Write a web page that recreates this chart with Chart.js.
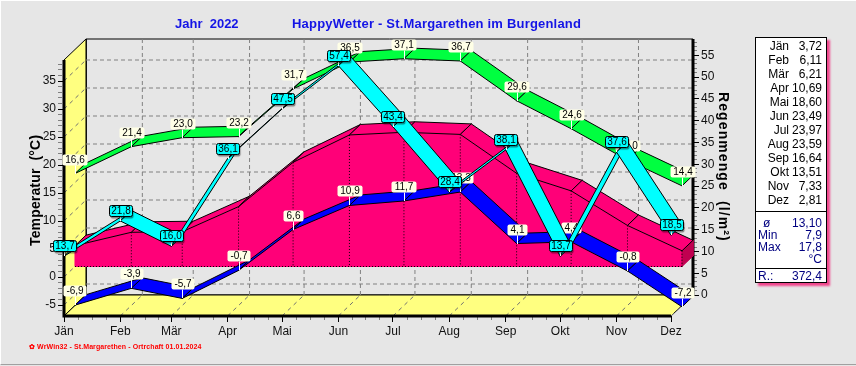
<!DOCTYPE html>
<html>
<head>
<meta charset="utf-8">
<title>HappyWetter</title>
<script src="https://cdn.jsdelivr.net/npm/chart.js@4"></script>
<style>
  html, body { margin: 0; padding: 0; }
  body { width: 856px; height: 366px; overflow: hidden; background: #e6e6e6; position: relative; font-family: "Liberation Sans", Arial, sans-serif; }
  #frame { position: absolute; left: 0; top: 0; width: 856px; height: 365px; border-top: 1px solid #fff; border-left: 1px solid #fff; border-bottom: 1px solid #a0a0a0; box-sizing: border-box; pointer-events: none; }
  canvas { position: absolute; left: 0; top: 0; }
  .txt { position: absolute; white-space: pre; }
  .head { top: 17px; color: #1414e6; font-weight: bold; font-size: 13px; line-height: 14px; }
  .side { font-weight: bold; font-size: 14px; line-height: 16px; color: #000; transform-origin: 0 0; }
  #foot { left: 29px; top: 342px; color: #f00; font-weight: bold; font-size: 7px; line-height: 10px; letter-spacing: 0.09px; }
  #panel { position: absolute; left: 755px; top: 37px; width: 72px; height: 246px; box-sizing: border-box; background: #fff; border: 1px solid #000; box-shadow: 3px 3px 2px #f0468c; font-size: 12px; line-height: 14px; color: #000; }
  #panel div { position: absolute; white-space: pre; }
  .rule { left: 0; width: 70px; height: 1px; background: #000; }
  .navy { color: #000080; }
</style>
</head>
<body>
<canvas id="wetter" width="856" height="366"></canvas>
<div id="frame"></div>
<div class="txt head" style="left:175px">Jahr  2022</div>
<div class="txt head" style="left:292px;letter-spacing:0.2px">HappyWetter - St.Margarethen im Burgenland</div>
<div class="txt side" style="left:27px;top:246px;transform:rotate(-90deg);letter-spacing:0.15px">Temperatur  (°C)</div>
<div class="txt side" style="left:732px;top:92px;transform:rotate(90deg);letter-spacing:1.1px">Regenmenge  (l/m²)</div>
<div class="txt" id="foot">&#10047; WrWin32 - St.Margarethen - Ortrchaft 01.01.2024</div>
<div id="panel"></div>
<script>
const months = ['Jän', 'Feb', 'Mär', 'Apr', 'Mai', 'Jun', 'Jul', 'Aug', 'Sep', 'Okt', 'Nov', 'Dez'];
const monthDays = [31, 28, 31, 30, 31, 30, 31, 31, 30, 31, 30, 31];
const tempMean = [3.72, 6.11, 6.21, 10.69, 18.60, 23.49, 23.97, 23.59, 16.64, 13.51, 7.33, 2.81];
const tempMax = [16.6, 21.4, 23.0, 23.2, 31.7, 36.5, 37.1, 36.7, 29.6, 24.6, 19.0, 14.4];
const tempMin = [-6.9, -3.9, -5.7, -0.7, 6.6, 10.9, 11.7, 13.3, 4.1, 4.4, -0.8, -7.2];
const rain = [13.7, 21.8, 16.0, 36.1, 47.5, 57.4, 43.4, 28.4, 38.1, 13.7, 37.6, 18.5];
const tempTicks = [-5, 0, 5, 10, 15, 20, 25, 30, 35];
const rainTicks = [0, 5, 10, 15, 20, 25, 30, 35, 40, 45, 50, 55];
const statRows = [['ø', '13,10'], ['Min', '7,9'], ['Max', '17,8'], ['', '°C']];
const rainTotal = '372,4';

// day of year of the first of each month, the x axis is in days
const monthStart = monthDays.slice(0, 11).reduce((a, d) => a.concat(a[a.length - 1] + d), [0]);

// axis limits and the depth of the 3d box, one step is half the box depth
const dayStep = 6.05;
const tempStep = 1.875;
const rainStep = 2.408;
const dayMax = monthStart[11] + 2 * dayStep;
const tempMinAxis = -6.964;
const tempMaxAxis = 42.5;
const rainMinAxis = -4.816;
const rainMaxAxis = 58.72;
const gap = { x: NaN, y: NaN };

const PINK = '#ff0078';
const GREEN = '#00ff40';
const BLUE = '#0000ff';
const CYAN = '#00ffff';
const YELLOW = '#ffff80';
const WALL = '#e6e6e6';

const sets = [];

function shape(points, color, border, axis) {
  sets.push({
    type: 'line', data: points.concat(points[0]), yAxisID: axis || 'yT', fill: 'shape', backgroundColor: color,
    borderColor: border || color, borderWidth: 1, pointRadius: 0, tension: 0, clip: false
  });
}

function strokes(points, color, width, dash, axis) {
  sets.push({
    type: 'line', data: points, yAxisID: axis || 'yT', fill: false, borderColor: color, borderWidth: width,
    borderDash: dash || [], pointRadius: 0, tension: 0, spanGaps: false, clip: false
  });
}

// one quad per month between two depth planes, xFrom and yFrom count depth steps on each axis
function ribbon(values, axis, step, xFrom, yFrom, color) {
  for (let i = 0; i < values.length - 1; i++) {
    shape([
      { x: monthStart[i] + xFrom * dayStep, y: values[i] + yFrom * step },
      { x: monthStart[i + 1] + xFrom * dayStep, y: values[i + 1] + yFrom * step },
      { x: monthStart[i + 1] + (xFrom + 1) * dayStep, y: values[i + 1] + (yFrom + 1) * step },
      { x: monthStart[i] + (xFrom + 1) * dayStep, y: values[i] + (yFrom + 1) * step }
    ], color, '#000', axis);
  }
}

function labels(values, axis, step, xFrom, yFrom, style) {
  sets.push({
    type: 'line', data: values.map((v, i) => ({ x: monthStart[i] + xFrom * dayStep, y: v + yFrom * step })),
    yAxisID: axis, showLine: false, pointRadius: 0, valueBoxes: values.map(v => v.toFixed(1).replace('.', ',')), boxStyle: style, clip: false
  });
}

// walls and floor
shape([{ x: 2 * dayStep, y: tempMinAxis + 2 * tempStep }, { x: dayMax, y: tempMinAxis + 2 * tempStep }, { x: dayMax, y: tempMaxAxis }, { x: 2 * dayStep, y: tempMaxAxis }], WALL, '#000');
shape([{ x: 0, y: tempMinAxis }, { x: 2 * dayStep, y: tempMinAxis + 2 * tempStep }, { x: 2 * dayStep, y: tempMaxAxis }, { x: 0, y: tempMaxAxis - 2 * tempStep }], YELLOW, '#000');
shape([{ x: 0, y: tempMinAxis }, { x: monthStart[11], y: tempMinAxis }, { x: dayMax, y: tempMinAxis + 2 * tempStep }, { x: 2 * dayStep, y: tempMinAxis + 2 * tempStep }], YELLOW, '#000');

const backGrid = [];
const wallGrid = [];
tempTicks.forEach(t => {
  backGrid.push({ x: 2 * dayStep, y: t + 2 * tempStep }, { x: dayMax, y: t + 2 * tempStep }, gap);
  wallGrid.push({ x: 0, y: t }, { x: 2 * dayStep, y: t + 2 * tempStep }, gap);
});
monthStart.forEach((d, i) => {
  if (i > 0) backGrid.push({ x: d + 2 * dayStep, y: tempMinAxis + 2 * tempStep }, { x: d + 2 * dayStep, y: tempMaxAxis }, gap);
  if (i > 0) wallGrid.push({ x: d, y: tempMinAxis }, { x: d + 2 * dayStep, y: tempMinAxis + 2 * tempStep }, gap);
});
strokes(backGrid, '#808080', 1, [4, 3]);
strokes(wallGrid, '#707070', 1, [4, 4]);

// axis lines
strokes([{ x: 0, y: tempMaxAxis - 2 * tempStep }, { x: 0, y: tempMinAxis }, { x: monthStart[11], y: tempMinAxis }], '#000', 3);
strokes([{ x: dayMax, y: tempMinAxis + 2 * tempStep }, { x: dayMax, y: tempMaxAxis }], '#000', 3);

// mean temperature, front face, end cap, top
const last = tempMean.length - 1;
shape(tempMean.map((t, i) => ({ x: monthStart[i] + dayStep, y: t + tempStep }))
  .concat({ x: monthStart[last] + dayStep, y: tempStep }, { x: dayStep, y: tempStep }), PINK);
shape([
  { x: monthStart[last] + dayStep, y: tempMean[last] + tempStep },
  { x: monthStart[last] + 2 * dayStep, y: tempMean[last] + 2 * tempStep },
  { x: monthStart[last] + 2 * dayStep, y: 2 * tempStep },
  { x: monthStart[last] + dayStep, y: tempStep }
], '#c00050');
const pinkDots = [{ x: dayStep, y: tempStep }, { x: monthStart[last] + dayStep, y: tempStep }, gap];
tempMean.forEach((t, i) => {
  if (i > 0) pinkDots.push({ x: monthStart[i] + dayStep, y: t + tempStep }, { x: monthStart[i] + dayStep, y: tempStep }, gap);
});
strokes(pinkDots, '#000', 1, [1, 2]);
ribbon(tempMean, 'yT', tempStep, 1, 1, PINK);

ribbon(tempMin, 'yT', tempStep, 1, 1, BLUE);
ribbon(tempMax, 'yT', tempStep, 1, 1, GREEN);
labels(tempMin, 'yT', tempStep, 1, 1, 'cream');
labels(tempMax, 'yT', tempStep, 1, 1, 'cream');

// rain sits between the front plane and the middle
ribbon(rain, 'yR', rainStep, 0, -2, CYAN);
labels(rain, 'yR', rainStep, 0, -2, 'cyan');

// first dataset is painted last, so order runs against the paint order
sets.forEach((s, i) => { s.order = sets.length - i; });

const valueBoxes = {
  id: 'valueBoxes',
  afterDatasetDraw(chart, args) {
    const ds = chart.data.datasets[args.index];
    if (!ds.valueBoxes) return;
    const ctx = chart.ctx;
    const points = chart.getDatasetMeta(args.index).data;
    const cyan = ds.boxStyle === 'cyan';
    const h = 11;
    const lift = cyan ? 5 : 9;
    ctx.save();
    ctx.font = '10px "Liberation Sans", Arial, sans-serif';
    ctx.textAlign = 'center';
    ctx.textBaseline = 'middle';
    points.forEach((p, i) => {
      const text = ds.valueBoxes[i];
      const w = Math.round(ctx.measureText(text).width) + (cyan ? 4 : 6);
      const x = Math.round(p.x - w / 2) + 0.5;
      const y = Math.round(p.y - lift - h) + 0.5;
      ctx.strokeStyle = '#fff';
      ctx.lineWidth = 1;
      ctx.beginPath();
      ctx.moveTo(Math.round(p.x) + 0.5, y + h);
      ctx.lineTo(Math.round(p.x) + 0.5, Math.round(p.y));
      ctx.stroke();
      ctx.beginPath();
      ctx.roundRect(x, y, w, h, 2);
      if (cyan) {
        ctx.shadowColor = 'rgba(0,0,0,0.45)';
        ctx.shadowOffsetX = 1;
        ctx.shadowOffsetY = 2;
        ctx.shadowBlur = 1;
      }
      ctx.fillStyle = cyan ? CYAN : '#ffffe6';
      ctx.fill();
      ctx.shadowColor = 'transparent';
      if (cyan) {
        ctx.strokeStyle = '#000';
        ctx.stroke();
      }
      ctx.fillStyle = '#000';
      ctx.fillText(text, x + w / 2, y + h / 2 + 0.5);
    });
    ctx.restore();
  }
};

function range(a, b) {
  const out = [];
  for (let v = a; v <= b; v++) out.push(v);
  return out;
}

const tickFont = { family: '"Liberation Sans", Arial, sans-serif', size: 12 };
const dayTicks = [];
monthStart.forEach((d, i) => {
  dayTicks.push(d);
  if (i < last) [1, 2, 3].forEach(q => dayTicks.push(d + q * monthDays[i] / 4));
});

function axisTicks(list, major) {
  return {
    afterBuildTicks: s => { s.ticks = list.map(v => ({ value: v })); },
    ticks: {
      autoSkip: false, maxRotation: 0, color: '#111', font: tickFont, padding: 2,
      callback: v => (major.includes(v) ? String(v) : '')
    },
    border: { display: false },
    grid: {
      drawOnChartArea: false, tickLength: 6, tickWidth: 1,
      tickColor: c => (major.includes(c.tick.value) ? '#000' : '#808080'),
      // minor ticks are shorter, the dash starts at the axis
      tickBorderDash: c => (major.includes(c.tick.value) ? [] : [4, 6])
    }
  };
}

new Chart('wetter', {
  data: { datasets: sets },
  plugins: [valueBoxes],
  options: {
    responsive: false,
    animation: false,
    events: [],
    layout: { padding: { top: 39 } },
    plugins: { legend: { display: false }, title: { display: false }, tooltip: { enabled: false } },
    scales: {
      x: {
        type: 'linear', position: 'bottom', min: 0, max: dayMax,
        ...axisTicks(dayTicks, monthStart),
        afterFit: s => { s.height = 50; },
        ticks: {
          autoSkip: false, maxRotation: 0, color: '#111', font: tickFont, padding: 2,
          callback: v => (monthStart.includes(v) ? months[monthStart.indexOf(v)] : '')
        }
      },
      yT: {
        type: 'linear', position: 'left', min: tempMinAxis, max: tempMaxAxis,
        ...axisTicks(range(-6, 38), tempTicks),
        afterFit: s => { s.width = 64; }
      },
      yR: {
        type: 'linear', position: 'right', min: rainMinAxis, max: rainMaxAxis,
        ...axisTicks(range(0, 58), rainTicks),
        afterFit: s => { s.width = 163; }
      }
    }
  }
});

// side table
const panel = document.getElementById('panel');
function cell(text, css, cls) {
  const d = document.createElement('div');
  d.textContent = text;
  d.style.cssText = css;
  if (cls) d.className = cls;
  panel.appendChild(d);
}
months.forEach((m, i) => {
  const top = 1 + i * 14;
  cell(m, `right:37px;top:${top}px`);
  cell(tempMean[i].toFixed(2).replace('.', ','), `right:4px;top:${top}px`);
});
cell('', 'top:173px', 'rule');
statRows.forEach((r, i) => {
  const top = 178 + i * 12;
  cell(r[0], `left:${i === 0 ? 7 : 2}px;top:${top}px`, 'navy');
  cell(r[1], `right:4px;top:${top}px`, 'navy');
});
cell('', 'top:230px', 'rule');
cell('R.:', 'left:2px;top:231px', 'navy');
cell(rainTotal, 'right:4px;top:231px', 'navy');
</script>
</body>
</html>
